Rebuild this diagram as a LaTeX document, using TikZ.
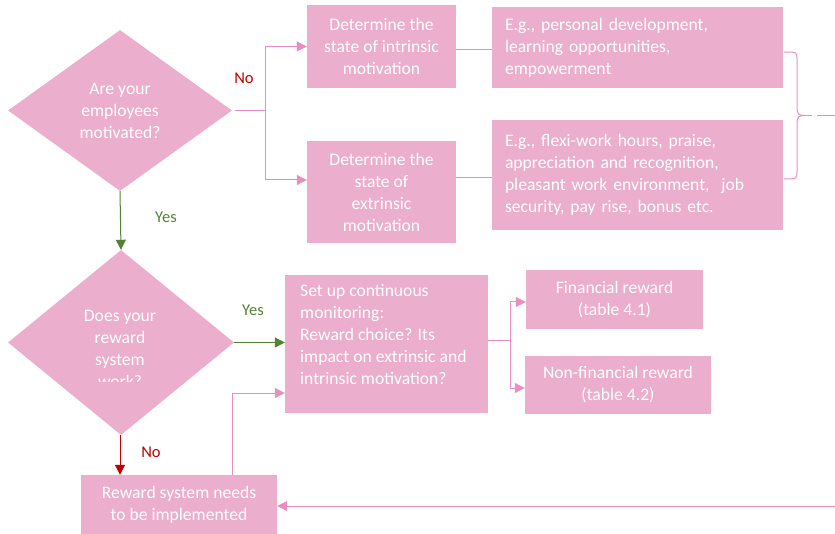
\documentclass[tikz,border=0pt]{standalone}
\usepackage{fontspec}
\setmainfont{Carlito}
\usetikzlibrary{shapes.geometric,arrows.meta}
\definecolor{boxpink}{RGB}{236,174,205}
\definecolor{linepink}{RGB}{234,142,192}
\definecolor{ygreen}{RGB}{84,130,53}
\definecolor{nred}{RGB}{192,0,0}
\begin{document}
\begin{tikzpicture}[x=1pt,y=-1pt,
  box/.style={rectangle, fill=boxpink, draw=none, inner sep=0pt, text=white, align=center, font=\fontsize{17.6}{22}\selectfont},
  dia/.style={diamond, fill=boxpink, draw=none, inner sep=0pt, text=white, align=center, font=\fontsize{17.6}{22}\selectfont},
  txt/.style={inner sep=0pt, text=white, font=\fontsize{17.6}{22}\selectfont},
  pline/.style={draw=linepink, line width=1pt},
  parrow/.style={pline, -{Triangle[length=10pt,width=10pt]}},
  garrow/.style={draw=ygreen, line width=1pt, -{Triangle[length=10pt,width=10pt]}},
  rarrow/.style={draw=nred, line width=1pt, -{Triangle[length=10pt,width=10pt]}},
  lbl/.style={inner sep=0pt, font=\fontsize{16.5}{19}\selectfont}
]
\useasboundingbox (0,0) rectangle (835,534);

% decisions
\node[dia, minimum width=224pt, minimum height=161pt] (d1) at (120,110.5) {Are your\\employees\\motivated?};
\node[dia, minimum width=226pt, minimum height=185pt] (d2) at (121,342.5) {};
\begin{scope}
\clip (0,240) rectangle (300,381);
\node[txt, align=center] (d2t) at (120,348.5) {Does your\\reward\\system\\work?};
\end{scope}

% boxes
\node[box, minimum width=149pt, minimum height=83pt] (b1) at (381.5,46.5) {Determine the\\state of intrinsic\\motivation};
\node[box, minimum width=149pt, minimum height=102pt] (b2) at (381.5,192) {Determine the\\state of\\extrinsic\\motivation};
\node[box, minimum width=291pt, minimum height=81pt, text width=265pt, align=left] (b3) at (637.5,47.5) {E.g., personal development,\\learning opportunities,\\empowerment};
\node[box, minimum width=291pt, minimum height=110pt, text width=265pt, align=left] (b4) at (637.5,175) {E.g., flexi-work hours, praise,\\appreciation and recognition,\\pleasant work environment, \ job\\security, pay rise, bonus etc.};
\node[box, minimum width=203pt, minimum height=138pt] (b5) at (386.5,344) {};
\node[txt, align=left, anchor=north west] (b5t) at (300,284) {Set up continuous\\monitoring:\\Reward choice? Its\\impact on extrinsic and\\intrinsic motivation?};
\node[box, minimum width=177pt, minimum height=59pt] (b6) at (614.5,299.5) {Financial reward\\(table 4.1)};
\node[box, minimum width=186pt, minimum height=58pt] (b7) at (618,385) {Non-financial reward\\(table 4.2)};
\node[box, minimum width=196pt, minimum height=59pt] (b8) at (179,504.5) {Reward system needs\\to be implemented};

% connectors top
\coordinate (j1) at (265,110.5);
\draw[pline] ([xshift=3pt]d1.east) -- (j1);
\draw[parrow] (j1) |- (b1.west);
\draw[parrow] (j1) |- ([yshift=12pt]b2.west);
\draw[pline] ([yshift=-3.5pt]b1.east) -- ([yshift=-3.5pt]b1.east -| b3.west);
\draw[pline] ([yshift=14pt]b2.east) -- ([yshift=14pt]b2.east -| b4.west);
\node[lbl, text=nred] (lno1) at (244,78) {No};

% brace
\coordinate (bt) at (784,52);
\coordinate (bb) at (784,179);
\coordinate (btip) at (804,115.5);
\draw[pline] (bt) .. controls (797,52) and (797,52) .. (797,60) -- (797,108) .. controls (797,114) and (799,115.5) .. (btip);
\draw[pline] (bb) .. controls (797,179) and (797,179) .. (797,171) -- (797,123) .. controls (797,117) and (799,115.5) .. (btip);
\coordinate (e1) at (812,115.5);
\coordinate (e2) at (817,115.5);
\coordinate (e3) at (835,115.5);
\draw[pline] (btip) -- (e1);
\draw[pline] (e2) -- (e3);

% yes / no flow
\draw[garrow] (d1.south) -- (d2.north);
\node[lbl, text=ygreen] (lyes1) at (166,217) {Yes};
\draw[garrow] (d2.east) -- (d2.east -| b5.west);
\node[lbl, text=ygreen] (lyes2) at (253,310) {Yes};
\draw[rarrow] ([xshift=-1pt]d2.south) -- ([xshift=-1pt]d2.south |- b8.north);
\node[lbl, text=nred] (lno2) at (151,452) {No};

% monitoring branches
\coordinate (j2) at (510,341);
\draw[pline] (b5.east |- j2) -- (j2);
\draw[parrow] (j2) |- ([yshift=-2.5pt]b6.west);
\draw[parrow] (j2) |- ([yshift=-3pt]b7.west);

% loop back
\draw[parrow] ([xshift=53pt]b8.north) |- ([yshift=-49pt]b5.west);
\coordinate (rt) at (835,506);
\draw[parrow] (rt) -- (rt -| b8.east);
\end{tikzpicture}
\end{document}
